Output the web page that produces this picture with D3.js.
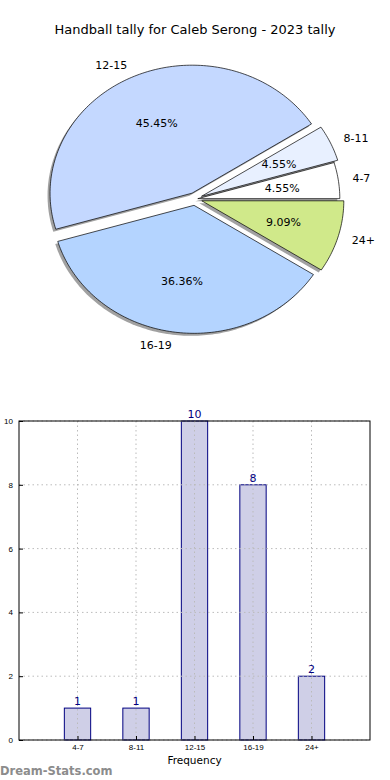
<!DOCTYPE html>
<html>
<head>
<meta charset="utf-8">
<script src="https://cdn.jsdelivr.net/npm/d3@7"></script>
<style>
  body { margin: 0; background: #fff; }
  svg { display: block; font-family: "DejaVu Sans", sans-serif; }
</style>
</head>
<body>
<svg id="chart" width="390" height="780"></svg>
<script>
// data
const categories = ['4-7', '8-11', '12-15', '16-19', '24+'];
const counts = [1, 1, 10, 8, 2];
const sliceColors = ['#ffffff', '#e8f0ff', '#c4d8ff', '#b4d4ff', '#d0e98a'];
const explode = [0.02, 0.05, 0.05, 0.05, 0.05];
const yTicks = [0, 2, 4, 6, 8, 10];

const svg = d3.select('#chart');

// title
svg.append('text')
	.attr('x', 195).attr('y', 34)
	.attr('text-anchor', 'middle')
	.style('font-size', '13px')
	.text('Handball tally for Caleb Serong - 2023 tally');

// ---------- pie (matplotlib style, squashed ellipse) ----------
const cx = 195, cy = 199, rx = 142, ry = 128;
const total = d3.sum(counts);

// counter-clockwise from 3 o'clock like matplotlib
const slices = [];
let acc = 0;
counts.forEach((v, i) => {
	const a0 = acc / total * 2 * Math.PI;
	acc += v;
	const a1 = acc / total * 2 * Math.PI;
	slices.push({ i, v, a0, a1, mid: (a0 + a1) / 2 });
});

const pt = (a, r) => [r * rx * Math.cos(a), -r * ry * Math.sin(a)];

function wedgePath(s) {
	const p = d3.path();
	p.moveTo(0, 0);
	const steps = Math.max(8, Math.ceil((s.a1 - s.a0) / 0.02));
	for (let k = 0; k <= steps; k++) {
		const a = s.a0 + (s.a1 - s.a0) * k / steps;
		const [x, y] = pt(a, 1);
		p.lineTo(x, y);
	}
	p.closePath();
	return p.toString();
}

const pieG = svg.append('g').attr('transform', `translate(${cx},${cy})`);

const off = s => pt(s.mid, explode[s.i]);

// shadows
pieG.selectAll('path.shadow')
	.data(slices)
	.join('path')
	.attr('class', 'shadow')
	.attr('d', wedgePath)
	.attr('transform', s => { const [x, y] = off(s); return `translate(${x - 2.5},${y + 2.5})`; })
	.attr('fill', '#444')
	.attr('opacity', 0.5);

pieG.selectAll('path.wedge')
	.data(slices)
	.join('path')
	.attr('class', 'wedge')
	.attr('d', wedgePath)
	.attr('transform', s => { const [x, y] = off(s); return `translate(${x},${y})`; })
	.attr('fill', s => sliceColors[s.i])
	.attr('stroke', '#000')
	.attr('stroke-width', 0.7)
	.attr('stroke-linejoin', 'round');

// outside labels
pieG.selectAll('text.lbl')
	.data(slices)
	.join('text')
	.attr('class', 'lbl')
	.attr('x', s => off(s)[0] + pt(s.mid, 1.1)[0])
	.attr('y', s => off(s)[1] + pt(s.mid, 1.1)[1])
	.attr('dy', '0.35em')
	.attr('text-anchor', s => Math.cos(s.mid) < 0 ? 'end' : 'start')
	.style('font-size', '11px')
	.text(s => categories[s.i]);

// percentages
pieG.selectAll('text.pct')
	.data(slices)
	.join('text')
	.attr('class', 'pct')
	.attr('x', s => off(s)[0] + pt(s.mid, 0.6)[0])
	.attr('y', s => off(s)[1] + pt(s.mid, 0.6)[1])
	.attr('dy', '0.35em')
	.attr('text-anchor', 'middle')
	.style('font-size', '11px')
	.text(s => (s.v / total * 100).toFixed(2) + '%');

// ---------- bar chart ----------
const margin = { top: 421, right: 20, bottom: 40, left: 19 };
const W = 390, H = 780;
const plotW = W - margin.left - margin.right;
const plotH = H - margin.top - margin.bottom;

const g = svg.append('g').attr('transform', `translate(${margin.left},${margin.top})`);

const x = d3.scaleLinear().domain([-1, 5]).range([0, plotW]);
const y = d3.scaleLinear().domain([0, 10]).range([plotH, 0]);
const barW = 0.45;

g.selectAll('rect.bar')
	.data(counts)
	.join('rect')
	.attr('class', 'bar')
	.attr('x', (d, i) => x(i - barW / 2))
	.attr('y', d => y(d))
	.attr('width', x(barW) - x(0))
	.attr('height', d => y(0) - y(d))
	.attr('fill', '#cfcfe7')
	.attr('stroke', '#000080')
	.attr('stroke-width', 1);

// grid on top of bars
g.append('g')
	.selectAll('line')
	.data(yTicks)
	.join('line')
	.attr('x1', 0).attr('x2', plotW)
	.attr('y1', d => y(d)).attr('y2', d => y(d))
	.attr('stroke', '#bbb')
	.attr('stroke-dasharray', '1.5,3');

g.append('g')
	.selectAll('line')
	.data(categories)
	.join('line')
	.attr('x1', (d, i) => x(i)).attr('x2', (d, i) => x(i))
	.attr('y1', 0).attr('y2', plotH)
	.attr('stroke', '#bbb')
	.attr('stroke-dasharray', '1.5,3');

// value labels
g.selectAll('text.val')
	.data(counts)
	.join('text')
	.attr('class', 'val')
	.attr('x', (d, i) => x(i))
	.attr('y', d => y(d) - 3)
	.attr('text-anchor', 'middle')
	.attr('fill', '#000080')
	.style('font-size', '11px')
	.text(d => d);

// axes
const yAxis = d3.axisLeft(y).tickValues(yTicks).tickSize(-4).tickPadding(6);
g.append('g').call(yAxis)
	.call(a => a.select('.domain').remove())
	.call(a => a.selectAll('text').style('font-size', '8px').attr('fill', '#000'));

const xAxis = d3.axisBottom(x)
	.tickValues(d3.range(categories.length))
	.tickFormat(i => categories[i])
	.tickSize(-4).tickPadding(4);
g.append('g').attr('transform', `translate(0,${plotH})`).call(xAxis)
	.call(a => a.select('.domain').remove())
	.call(a => a.selectAll('text').style('font-size', '8px').attr('fill', '#000'));

g.append('rect')
	.attr('width', plotW).attr('height', plotH)
	.attr('fill', 'none')
	.attr('stroke', '#000')
	.attr('stroke-width', 1);

g.append('text')
	.attr('x', plotW / 2).attr('y', plotH + 24)
	.attr('text-anchor', 'middle')
	.style('font-size', '10.5px')
	.text('Frequency');

// y label sits mostly off the left edge, as in the original
g.append('text')
	.attr('transform', `translate(${-margin.left - 1},${plotH / 2}) rotate(-90)`)
	.attr('text-anchor', 'middle')
	.style('font-size', '10px')
	.text('Number of Games');

// watermark
svg.append('text')
	.attr('x', 0).attr('y', 775)
	.attr('fill', '#8c8c8c')
	.style('font-size', '11.5px')
	.style('font-weight', '600')
	.text('Dream-Stats.com');
</script>
</body>
</html>
